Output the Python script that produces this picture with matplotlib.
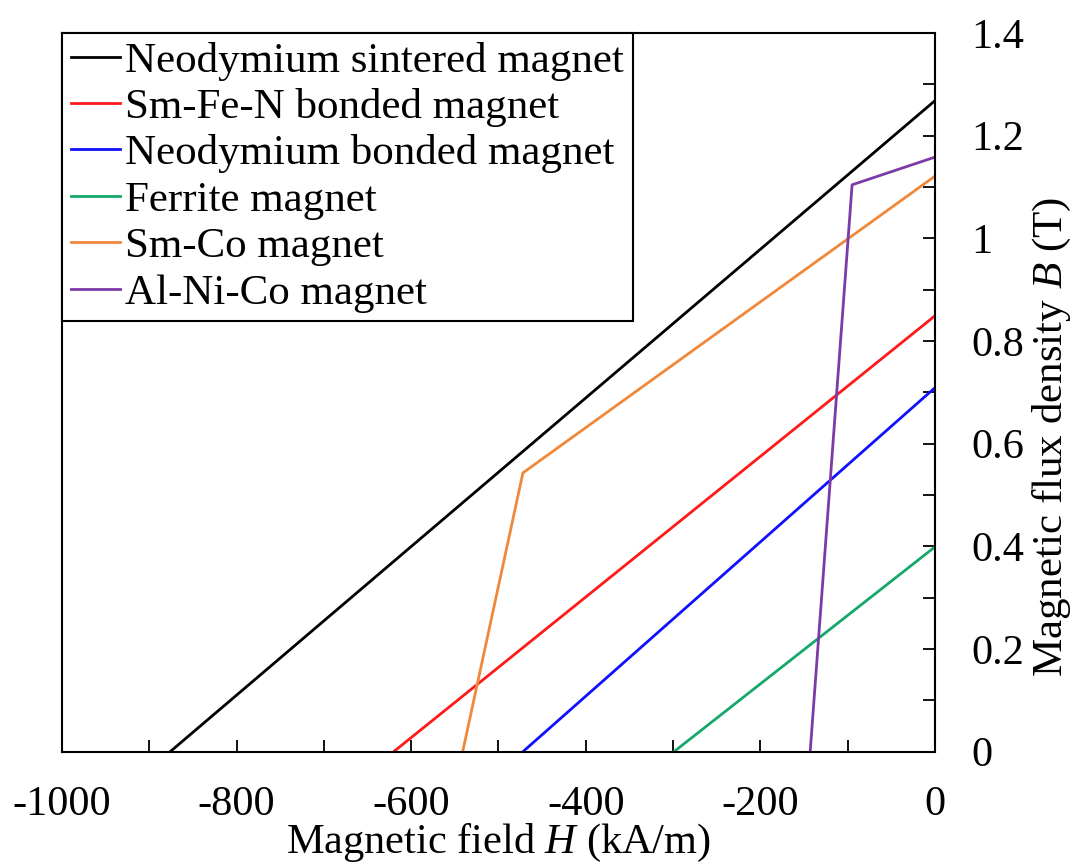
import matplotlib
matplotlib.use("Agg")
import matplotlib.pyplot as plt
from matplotlib.ticker import MultipleLocator

plt.rcParams["font.family"] = ["Liberation Serif", "DejaVu Serif"]
plt.rcParams["mathtext.fontset"] = "custom"
plt.rcParams["mathtext.rm"] = "Liberation Serif"
plt.rcParams["mathtext.it"] = "Liberation Serif:italic"

# demagnetisation curves (H in kA/m, B in T)
labels = ["Neodymium sintered magnet", "Sm-Fe-N bonded magnet", "Neodymium bonded magnet",
          "Ferrite magnet", "Sm-Co magnet", "Al-Ni-Co magnet"]
colors = ["#000000", "#ff1a1a", "#1010ff", "#15a86a", "#f0883a", "#7a3aa8"]

h_sintered = [-876, 0]
b_sintered = [0, 1.268]
h_smfen = [-620, 0]
b_smfen = [0, 0.849]
h_ndbond = [-472, 0]
b_ndbond = [0, 0.709]
h_ferrite = [-299, 0]
b_ferrite = [0, 0.399]
h_smco = [-541, -472, 0]
b_smco = [0, 0.543, 1.121]
h_alnico = [-143, -95, 0]
b_alnico = [0, 1.104, 1.158]

series = [(h_sintered, b_sintered), (h_smfen, b_smfen), (h_ndbond, b_ndbond),
          (h_ferrite, b_ferrite), (h_smco, b_smco), (h_alnico, b_alnico)]

fs = 30.5

fig = plt.figure(figsize=(10.86, 8.64), dpi=100)
ax = fig.add_axes([0.057, 0.130, 0.804, 0.832])

for (h, b), lab, c in zip(series, labels, colors):
    ax.plot(h, b, color=c, linewidth=2.0, label=lab)

ax.set_xlim(-1000, 0)
ax.set_ylim(0, 1.4)
ax.xaxis.set_major_locator(MultipleLocator(200))
ax.xaxis.set_minor_locator(MultipleLocator(100))
ax.yaxis.set_major_locator(MultipleLocator(0.2))
ax.yaxis.set_minor_locator(MultipleLocator(0.1))
ax.yaxis.tick_right()
ax.xaxis.set_major_formatter(plt.FuncFormatter(lambda v, p: f"{v:g}"))
ax.yaxis.set_major_formatter(plt.FuncFormatter(lambda v, p: f"{v:g}"))

ax.tick_params(which="both", direction="in", length=9, width=1.3, labelsize=fs,
               bottom=True, top=False, left=False, right=True)
ax.tick_params(axis="x", which="both", pad=24)
ax.tick_params(axis="y", which="both", pad=26)
for s in ax.spines.values():
    s.set_linewidth(1.5)

ax.set_xlabel("Magnetic field $H$ (kA/m)", fontsize=fs, labelpad=-1)
fig.text(1052 / 1086, 1 - 437 / 864, "Magnetic flux density $B$ (T)", fontsize=31,
         rotation=90, ha="center", va="center")

leg = ax.legend(loc="upper left", bbox_to_anchor=(0, 1), borderaxespad=0,
                fontsize=31, handlelength=1.15, handletextpad=0.12,
                labelspacing=0.17, borderpad=0.2, fancybox=False, framealpha=1)
leg.get_frame().set_edgecolor("black")
leg.get_frame().set_linewidth(1.5)

fig.savefig("out.png", dpi=100)
